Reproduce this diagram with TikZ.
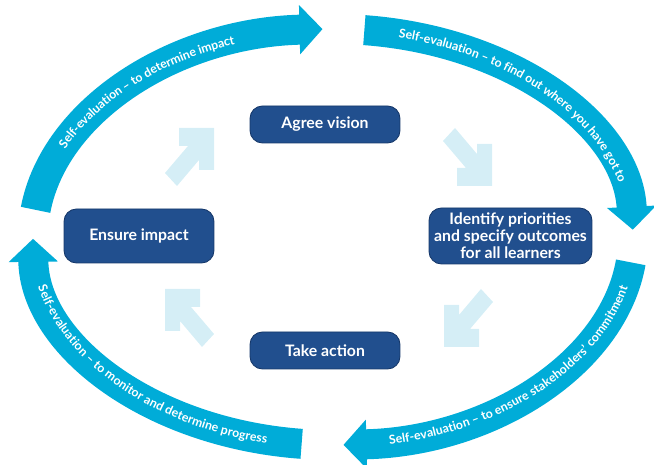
\documentclass[tikz,border=0pt]{standalone}
\usepackage{fontspec}
\setmainfont{Lato}
\usetikzlibrary{arrows.meta, decorations.text}

\definecolor{ringblue}{HTML}{00ACD8}
\definecolor{stageblue}{HTML}{214F8E}
\definecolor{stageedge}{HTML}{17396B}
\definecolor{paleblue}{HTML}{D5EEF6}

\newcommand{\stagefont}{\fontsize{9}{9.7}\selectfont\bfseries}
\newcommand{\ringfont}{\fontsize{7}{8}\selectfont\bfseries}

\tikzset{
  stage/.style={draw=stageedge, line width=0.5pt, fill=stageblue, rounded corners=0.25cm,
    text=white, font=\stagefont, align=center, minimum width=3cm, minimum height=0.74cm, inner sep=0pt},
  ring/.style={draw=ringblue, line width=0.6cm, -{Triangle[length=0.46cm, width=0.96cm]}},
  ringtext/.style={decorate, decoration={text along path, text align=center, raise=-2pt,
    text color=white, text={|\ringfont|#1}}},
  pale/.style={fill=paleblue}
}

\begin{document}
\begin{tikzpicture}[x=0.02cm, y=0.02cm]
  \useasboundingbox (0,0) rectangle (654,465);
  \coordinate (ring) at (333,228);

  % self-evaluation ring
  \draw[ring, shift={(ring)}] (172.5:300 and 208) arc[start angle=172.5, end angle=92, x radius=300, y radius=208];
  \draw[ring, shift={(ring)}] (84:300 and 208) arc[start angle=84, end angle=2, x radius=300, y radius=208];
  \draw[ring, shift={(ring)}] (-7:300 and 208) arc[start angle=-7, end angle=-88, x radius=300, y radius=208];
  \draw[ring, shift={(ring)}] (-96:300 and 208) arc[start angle=-96, end angle=-179.5, x radius=300, y radius=208];

  \path[ringtext={Self-evaluation – to determine impact}, shift={(ring)}]
    (172.5:300 and 208) arc[start angle=172.5, end angle=96, x radius=300, y radius=208];
  \path[ringtext={Self-evaluation – to find out where you have got to}, shift={(ring)}]
    (84:300 and 208) arc[start angle=84, end angle=6, x radius=300, y radius=208];
  \path[ringtext={Self-evaluation – to ensure stakeholders’ commitment}, shift={(ring)}]
    (-84:300 and 208) arc[start angle=-84, end angle=-7, x radius=300, y radius=208];
  \path[ringtext={Self-evaluation – to monitor and determine progress}, shift={(ring)}]
    (184:300 and 208) arc[start angle=184, end angle=264, x radius=300, y radius=208];

  % stages
  \node[stage] (vision) at (325,340.5) {Agree vision};
  \node[stage, minimum width=3.26cm, minimum height=1.12cm] (priorities) at (510.5,229)
    {Identify priorities\\and specify outcomes\\for all learners};
  \node[stage] (action) at (325,114.5) {Take action};
  \node[stage, minimum height=1.08cm] (impact) at (139,229) {Ensure impact};

  % pale arrows between the stages
  \foreach \px/\py/\xs/\ys in {190/308/1/1, 468/308/1/-1, 468/147/-1/-1, 189/147/-1/1}
    \fill[pale, shift={(\px,\py)}, xscale=\xs, yscale=\ys]
      (-11,29) -- (24,29) -- (24,-13) -- (9,-13) -- (9,-3) -- (-13,-29) -- (-25,-16) -- (-2,11) -- (-11,11) -- cycle;
\end{tikzpicture}
\end{document}
